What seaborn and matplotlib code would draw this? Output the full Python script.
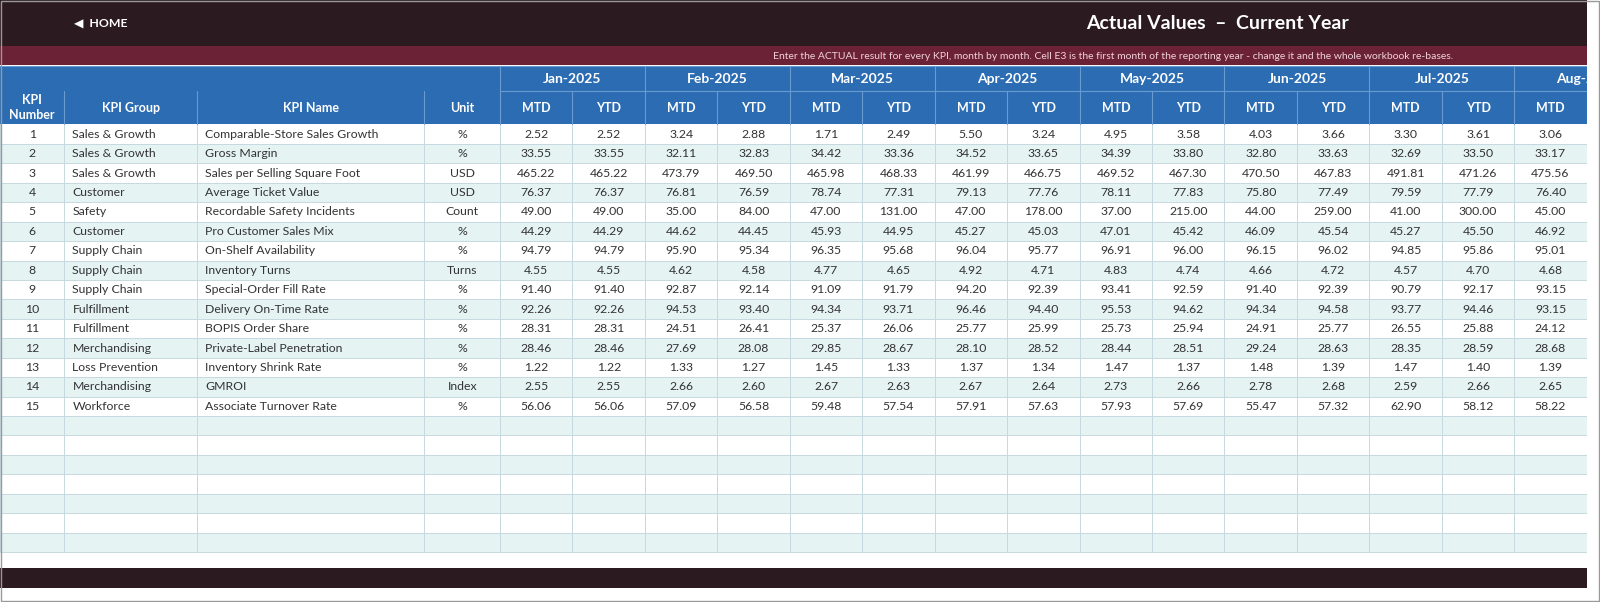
import matplotlib
matplotlib.use("Agg")
import matplotlib.pyplot as plt
from matplotlib.patches import Rectangle
import seaborn as sns
import numpy as np

sns.set_theme(style="white")
plt.rcParams['font.family'] = ['Lato', 'DejaVu Sans']

kpi_num = list(range(1, 16))
kpi_group = ["Sales & Growth", "Sales & Growth", "Sales & Growth", "Customer", "Safety", "Customer",
             "Supply Chain", "Supply Chain", "Supply Chain", "Fulfillment", "Fulfillment",
             "Merchandising", "Loss Prevention", "Merchandising", "Workforce"]
kpi_name = ["Comparable-Store Sales Growth", "Gross Margin", "Sales per Selling Square Foot",
            "Average Ticket Value", "Recordable Safety Incidents", "Pro Customer Sales Mix",
            "On-Shelf Availability", "Inventory Turns", "Special-Order Fill Rate", "Delivery On-Time Rate",
            "BOPIS Order Share", "Private-Label Penetration", "Inventory Shrink Rate", "GMROI",
            "Associate Turnover Rate"]
units = ["%", "%", "USD", "USD", "Count", "%", "%", "Turns", "%", "%", "%", "%", "%", "Index", "%"]
months = ["Jan-2025", "Feb-2025", "Mar-2025", "Apr-2025", "May-2025", "Jun-2025", "Jul-2025", "Aug-2025"]
jan_mtd = [2.52, 33.55, 465.22, 76.37, 49.00, 44.29, 94.79, 4.55, 91.40, 92.26, 28.31, 28.46, 1.22, 2.55, 56.06]
jan_ytd = [2.52, 33.55, 465.22, 76.37, 49.00, 44.29, 94.79, 4.55, 91.40, 92.26, 28.31, 28.46, 1.22, 2.55, 56.06]
feb_mtd = [3.24, 32.11, 473.79, 76.81, 35.00, 44.62, 95.90, 4.62, 92.87, 94.53, 24.51, 27.69, 1.33, 2.66, 57.09]
feb_ytd = [2.88, 32.83, 469.50, 76.59, 84.00, 44.45, 95.34, 4.58, 92.14, 93.40, 26.41, 28.08, 1.27, 2.60, 56.58]
mar_mtd = [1.71, 34.42, 465.98, 78.74, 47.00, 45.93, 96.35, 4.77, 91.09, 94.34, 25.37, 29.85, 1.45, 2.67, 59.48]
mar_ytd = [2.49, 33.36, 468.33, 77.31, 131.00, 44.95, 95.68, 4.65, 91.79, 93.71, 26.06, 28.67, 1.33, 2.63, 57.54]
apr_mtd = [5.50, 34.52, 461.99, 79.13, 47.00, 45.27, 96.04, 4.92, 94.20, 96.46, 25.77, 28.10, 1.37, 2.67, 57.91]
apr_ytd = [3.24, 33.65, 466.75, 77.76, 178.00, 45.03, 95.77, 4.71, 92.39, 94.40, 25.99, 28.52, 1.34, 2.64, 57.63]
may_mtd = [4.95, 34.39, 469.52, 78.11, 37.00, 47.01, 96.91, 4.83, 93.41, 95.53, 25.73, 28.44, 1.47, 2.73, 57.93]
may_ytd = [3.58, 33.80, 467.30, 77.83, 215.00, 45.42, 96.00, 4.74, 92.59, 94.62, 25.94, 28.51, 1.37, 2.66, 57.69]
jun_mtd = [4.03, 32.80, 470.50, 75.80, 44.00, 46.09, 96.15, 4.66, 91.40, 94.34, 24.91, 29.24, 1.48, 2.78, 55.47]
jun_ytd = [3.66, 33.63, 467.83, 77.49, 259.00, 45.54, 96.02, 4.72, 92.39, 94.58, 25.77, 28.63, 1.39, 2.68, 57.32]
jul_mtd = [3.30, 32.69, 491.81, 79.59, 41.00, 45.27, 94.85, 4.57, 90.79, 93.77, 26.55, 28.35, 1.47, 2.59, 62.90]
jul_ytd = [3.61, 33.50, 471.26, 77.79, 300.00, 45.50, 95.86, 4.70, 92.17, 94.46, 25.88, 28.59, 1.40, 2.66, 58.12]
aug_mtd = [3.06, 33.17, 475.56, 76.40, 45.00, 46.92, 95.01, 4.68, 93.15, 93.15, 24.12, 28.68, 1.39, 2.65, 58.22]

value_cols = [jan_mtd, jan_ytd, feb_mtd, feb_ytd, mar_mtd, mar_ytd, apr_mtd, apr_ytd,
              may_mtd, may_ytd, jun_mtd, jun_ytd, jul_mtd, jul_ytd, aug_mtd]

W, H = 1568, 590
fig = plt.figure(figsize=(16, 6.02), dpi=100)
ax = fig.add_axes([0, 0, 1, 1])
ax.set_xlim(0, W)
ax.set_ylim(H, 0)
ax.axis("off")

DARK = "#2b1a1f"
MAROON = "#6b2236"
BLUE = "#2b6cb3"
TEAL = "#e6f3f3"
GRID = "#c5d9e0"
TXT = "#333333"
RIGHT = 1555
FS = 8.8

def rect(x0, y0, x1, y1, fc, ec="none", lw=0.0, z=1):
    ax.add_patch(Rectangle((x0, y0), x1 - x0, y1 - y0, facecolor=fc, edgecolor=ec, linewidth=lw, zorder=z))

rect(0, 0, RIGHT, 45, DARK)
rect(0, 45, RIGHT, 64, MAROON)
ax.text(73, 22.5, "◀  HOME", color="white", fontsize=8.8, fontweight="bold", va="center", ha="left")
ax.text(1193, 23, "Actual Values  \u2013  Current Year", color="white", fontsize=14, fontweight="bold",
        ha="center", va="center")
ax.text(1424, 55, "Enter the ACTUAL result for every KPI, month by month. Cell E3 is the first month of the "
        "reporting year - change it and the whole workbook re-bases.", color="#f0d3da", fontsize=7.5,
        ha="right", va="center")

edges = [0, 63, 193, 416, 490]
for i in range(16):
    edges.append(490 + 71 * (i + 1))
y_h1, y_h2, y_body = 65, 89, 122
rh = 19.05
n_rows = 22

rect(0, y_h1, RIGHT, y_body, BLUE)
hl = "#6a9bd0"
ax.plot([490, RIGHT], [y_h2, y_h2], color=hl, lw=0.8, zorder=3)
ax.plot([0, RIGHT], [y_h1, y_h1], color=hl, lw=0.8, zorder=3)
for i, m in enumerate(months):
    x0 = 490 + 142 * i
    ax.plot([x0, x0], [y_h1, y_body], color=hl, lw=0.8, zorder=3)
    ax.text(x0 + 71, (y_h1 + y_h2) / 2, m, color="white", fontsize=10, fontweight="bold",
            ha="center", va="center", zorder=4)
    for j, lab in enumerate(["MTD", "YTD"]):
        xs = x0 + 71 * j
        if xs + 35 < RIGHT:
            ax.text(xs + 35.5, (y_h2 + y_body) / 2, lab, color="white", fontsize=9, fontweight="bold",
                    ha="center", va="center", zorder=4)
    ax.plot([x0 + 71, x0 + 71], [y_h2, y_body], color=hl, lw=0.8, zorder=3)
for x in edges[1:5]:
    ax.plot([x, x], [y_h2, y_body], color=hl, lw=0.8, zorder=3)
labels = ["KPI\nNumber", "KPI Group", "KPI Name", "Unit"]
for k, lab in enumerate(labels):
    ax.text((edges[k] + edges[k + 1]) / 2, (y_h2 + y_body) / 2, lab, color="white", fontsize=9,
            fontweight="bold", ha="center", va="center", linespacing=1.25, zorder=4)

for i in range(n_rows):
    y0 = y_body + i * rh
    rect(0, y0, RIGHT, y0 + rh, TEAL if i % 2 else "white")
    ax.plot([0, RIGHT], [y0 + rh, y0 + rh], color=GRID, lw=0.7, zorder=2)
y_end = y_body + n_rows * rh
for x in edges:
    if x <= RIGHT:
        ax.plot([x, x], [y_body, y_end], color=GRID, lw=0.7, zorder=2)

for i in range(15):
    yc = y_body + i * rh + rh / 2
    ax.text((edges[0] + edges[1]) / 2, yc, str(kpi_num[i]), color=TXT, fontsize=FS, ha="center", va="center", zorder=4)
    ax.text(edges[1] + 8, yc, kpi_group[i], color=TXT, fontsize=FS, ha="left", va="center", zorder=4)
    ax.text(edges[2] + 8, yc, kpi_name[i], color=TXT, fontsize=FS, ha="left", va="center", zorder=4)
    ax.text((edges[3] + edges[4]) / 2, yc, units[i], color=TXT, fontsize=FS, ha="center", va="center", zorder=4)
    for c, col in enumerate(value_cols):
        xc = 490 + 71 * c + 35.5
        ax.text(xc, yc, f"{col[i]:.2f}", color=TXT, fontsize=FS, ha="center", va="center", zorder=4)

rect(0, 557, RIGHT, 576, DARK)
rect(RIGHT, 0, W, H, "white", z=5)
ax.add_patch(Rectangle((0.5, 0.5), W - 1, H - 1, fill=False, edgecolor="#999999", lw=1.0, zorder=6))

fig.savefig("out.png", dpi=100)
